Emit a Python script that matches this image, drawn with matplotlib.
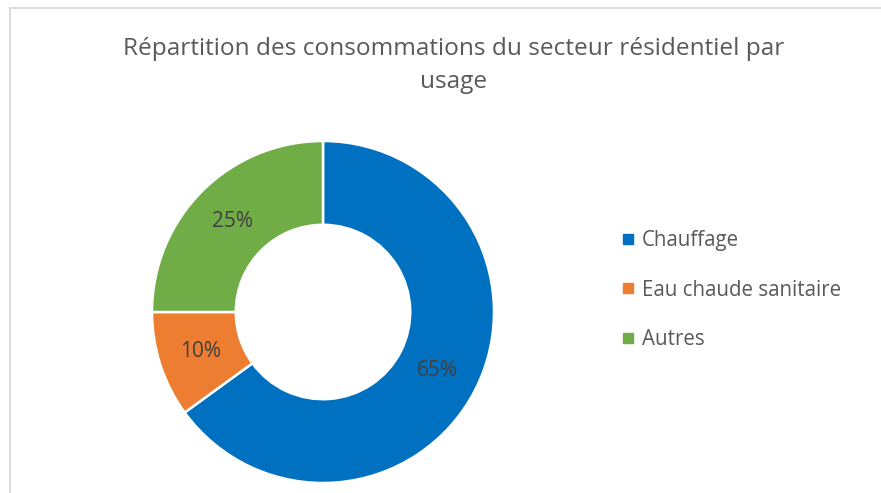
import matplotlib
matplotlib.use("Agg")
import matplotlib.pyplot as plt
from matplotlib.patches import Rectangle
from matplotlib.lines import Line2D

# data
categories = ["Chauffage", "Eau chaude sanitaire", "Autres"]
shares = [65, 10, 25]
colors = ["#0070C0", "#ED7D31", "#70AD47"]
title = "Répartition des consommations du secteur résidentiel par\nusage"

plt.rcParams["font.family"] = ["Open Sans", "DejaVu Sans"]

W, H = 881, 493
fig = plt.figure(figsize=(W / 100, H / 100), dpi=100)

# light grey chart frame (runs off the right/bottom edge)
fig.patches.append(Rectangle((9.5 / W, -0.2), 1.2, 1 - 7.5 / H + 0.2,
                             transform=fig.transFigure, fill=False,
                             ec="#d9d9d9", lw=1.3))

# donut: centre ~(323, 312) px, radius ~171 px
cx, cy, r = 323, 312, 171
ax = fig.add_axes([(cx - r) / W, (H - cy - r) / H, 2 * r / W, 2 * r / H])
wedges, _, autotexts = ax.pie(
    shares, colors=colors, startangle=90, counterclock=False,
    radius=1.0, autopct="%d%%", pctdistance=0.75,
    wedgeprops=dict(width=0.49, edgecolor="white", linewidth=1.8),
    textprops=dict(color="#404040", fontsize=15))
ax.set_xlim(-1, 1); ax.set_ylim(-1, 1)
ax.set_aspect("equal")
ax.axis("off")

fig.text(454 / W, 1 - 65 / H, title, ha="center", va="center",
         fontsize=17.6, color="#595959", linespacing=1.5)

handles = [Line2D([], [], marker="s", ls="", color=c, markersize=7) for c in colors]
fig.legend(handles, categories, loc="center left",
           bbox_to_anchor=(602 / W, 1 - 290 / H), frameon=False,
           fontsize=14.8, labelcolor="#595959", handlelength=0.7,
           handletextpad=0.35, labelspacing=1.38)

fig.savefig("out.png", dpi=100)
